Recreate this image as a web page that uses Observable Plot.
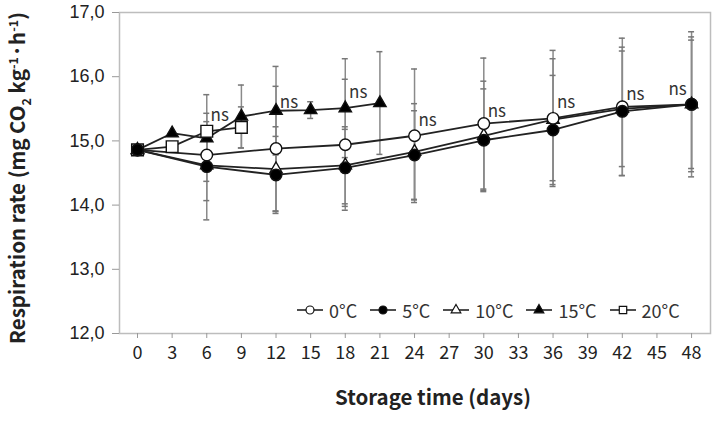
<!DOCTYPE html>
<html>
<head>
<meta charset="utf-8">
<script src="https://cdn.jsdelivr.net/npm/d3@7"></script>
<script src="https://cdn.jsdelivr.net/npm/@observablehq/plot@0.6"></script>
<style>
  html, body { margin: 0; padding: 0; background: #fff; }
  body { font-family: "Noto Sans CJK KR", "Noto Sans", sans-serif; }
  #wrap { position: relative; width: 721px; height: 425px; }
  #ytitle { position: absolute; left: 18px; top: 178px; transform: translate(-50%, -50%) rotate(-90deg);
    white-space: nowrap; font-weight: 700; font-size: 20.5px; color: #222; }
  #ytitle sub, #ytitle sup { font-size: 12.5px; }
  #legend { position: absolute; left: 296px; top: 297px; display: flex; align-items: center;
    font-size: 18px; color: #333; }
  .item { display: flex; align-items: center; margin-right: 12px; }
  .item svg { margin-right: 5px; }
</style>
</head>
<body>
<div id="wrap">
  <div id="chart"></div>
  <div id="ytitle">Respiration rate (mg CO<sub>2</sub> kg<sup>-1</sup>·h<sup>-1</sup>)</div>
  <div id="legend"></div>
</div>
<script>
// ---- data ----
const seriesNames = ["0°C", "5°C", "10°C", "15°C", "20°C"];
const daysLong = [0, 6, 12, 18, 24, 30, 36, 42, 48];
const days15 = [0, 3, 6, 9, 12, 15, 18, 21];
const days20 = [0, 3, 6, 9];

const values0 = [14.86, 14.78, 14.88, 14.94, 15.08, 15.27, 15.35, 15.53, 15.57];
const errors0 = [0, 0.41, 0.97, 1.02, 1.04, 1.02, 1.06, 1.07, 1.13];
const values5 = [14.86, 14.60, 14.47, 14.58, 14.78, 15.01, 15.17, 15.46, 15.57];
const errors5 = [0, 0.83, 0.60, 0.60, 0.69, 0.80, 0.85, 1.00, 1.00];
const values10 = [14.86, 14.62, 14.56, 14.62, 14.83, 15.08, 15.33, 15.50, 15.57];
const errors10 = [0, 0.55, 0.66, 0.60, 0.75, 0.85, 0.95, 0.90, 1.05];
const values15 = [14.86, 15.12, 15.04, 15.38, 15.47, 15.48, 15.51, 15.59];
const errors15 = [0, 0, 0.26, 0.49, 0.69, 0.13, 0.77, 0.80];
const values20 = [14.86, 14.91, 15.15, 15.21];
const errors20 = [0, 0, 0.57, 0.32];

const nsDays = [6, 12, 18, 24, 30, 36, 42, 48];
const nsValues = [15.40, 15.59, 15.75, 15.32, 15.45, 15.59, 15.72, 15.80];

const xTicks = [0, 3, 6, 9, 12, 15, 18, 21, 24, 27, 30, 33, 36, 39, 42, 45, 48];
const yTicks = [12, 13, 14, 15, 16, 17];

const xLabel = "Storage time (days)";

// ---- styles per series ----
const styles = {
  "0°C":  {symbol: "circle",   fill: "white", r: 5.8},
  "5°C":  {symbol: "circle",   fill: "black", r: 5.8},
  "10°C": {symbol: "triangle", fill: "white", r: 4.6},
  "15°C": {symbol: "triangle", fill: "black", r: 4.6},
  "20°C": {symbol: "square",   fill: "white", r: 6.6}
};

const seriesData = [
  [seriesNames[0], daysLong, values0, errors0],
  [seriesNames[1], daysLong, values5, errors5],
  [seriesNames[2], daysLong, values10, errors10],
  [seriesNames[3], days15, values15, errors15],
  [seriesNames[4], days20, values20, errors20]
];
const rows = seriesData.flatMap(([name, days, vals, errs]) =>
  days.map((day, i) => ({series: name, day, value: vals[i], err: errs[i]})));
const errRows = rows.filter(d => d.err > 0);
const nsRows = nsDays.map((day, i) => ({day, value: nsValues[i]}));

const drawOrder = ["15°C", "20°C", "10°C", "0°C", "5°C"];
const capHalf = 0.26;

const chart = Plot.plot({
  width: 721,
  height: 425,
  marginLeft: 119,
  marginRight: 11,
  marginTop: 12,
  marginBottom: 92,
  style: {fontFamily: '"Noto Sans CJK KR", "Noto Sans", sans-serif', background: "white"},
  x: {domain: [-1.56, 49.64]},
  y: {domain: [12, 17]},
  marks: [
    Plot.frame({stroke: "#bdbdbd", strokeWidth: 1.5}),
    Plot.axisY({ticks: yTicks, tickSize: 7, tickPadding: 8, fontSize: 18, label: null,
      fontFamily: '"Liberation Sans", sans-serif',
      tickFormat: d => d.toFixed(1).replace(".", ","), stroke: "#999", fill: "#222"}),
    Plot.axisX({ticks: xTicks, tickSize: 5, tickPadding: 8, fontSize: 18, label: null,
      stroke: "#999", fill: "#222"}),
    Plot.text([xLabel], {frameAnchor: "bottom", dx: 18, dy: 71, fontSize: 20.5, fontWeight: 700, fill: "#222"}),
    Plot.ruleX(errRows, {x: "day", y1: d => d.value - d.err, y2: d => d.value + d.err, stroke: "#8a8a8a", strokeWidth: 1.5}),
    Plot.ruleY(errRows, {y: d => d.value + d.err, x1: d => d.day - capHalf, x2: d => d.day + capHalf, stroke: "#777", strokeWidth: 1.5}),
    Plot.ruleY(errRows, {y: d => d.value - d.err, x1: d => d.day - capHalf, x2: d => d.day + capHalf, stroke: "#777", strokeWidth: 1.5}),
    ...drawOrder.map(s => Plot.line(rows.filter(d => d.series === s), {x: "day", y: "value", stroke: "#222", strokeWidth: 1.8})),
    ...drawOrder.map(s => Plot.dot(rows.filter(d => d.series === s), {
      x: "day", y: "value", symbol: () => styles[s].symbol, r: styles[s].r,
      fill: styles[s].fill, stroke: "#111", strokeWidth: 1.4})),
    Plot.text(nsRows.filter(d => d.day < 48), {x: "day", y: "value", text: () => "ns", dx: 13, fontSize: 17, fill: "#333"}),
    Plot.text(nsRows.filter(d => d.day === 48), {x: "day", y: "value", text: () => "ns", dx: -14, fontSize: 17, fill: "#333"})
  ]
});
document.getElementById("chart").appendChild(chart);

// ---- legend ----
const legend = d3.select("#legend");
seriesNames.forEach(name => {
  const st = styles[name];
  const item = legend.append("div").attr("class", "item");
  const svg = item.append("svg").attr("width", 28).attr("height", 14);
  svg.append("line").attr("x1", 1).attr("x2", 27).attr("y1", 7).attr("y2", 7)
    .attr("stroke", "#222").attr("stroke-width", 1.6);
  const sym = st.symbol === "circle" ? d3.symbolCircle : st.symbol === "triangle" ? d3.symbolTriangle : d3.symbolSquare;
  const size = st.symbol === "circle" ? 50 : st.symbol === "triangle" ? 40 : 55;
  svg.append("path").attr("d", d3.symbol(sym, size)()).attr("transform", "translate(14,7)")
    .attr("fill", st.fill).attr("stroke", "#111").attr("stroke-width", 1.2);
  item.append("span").text(name);
});
</script>
</body>
</html>
